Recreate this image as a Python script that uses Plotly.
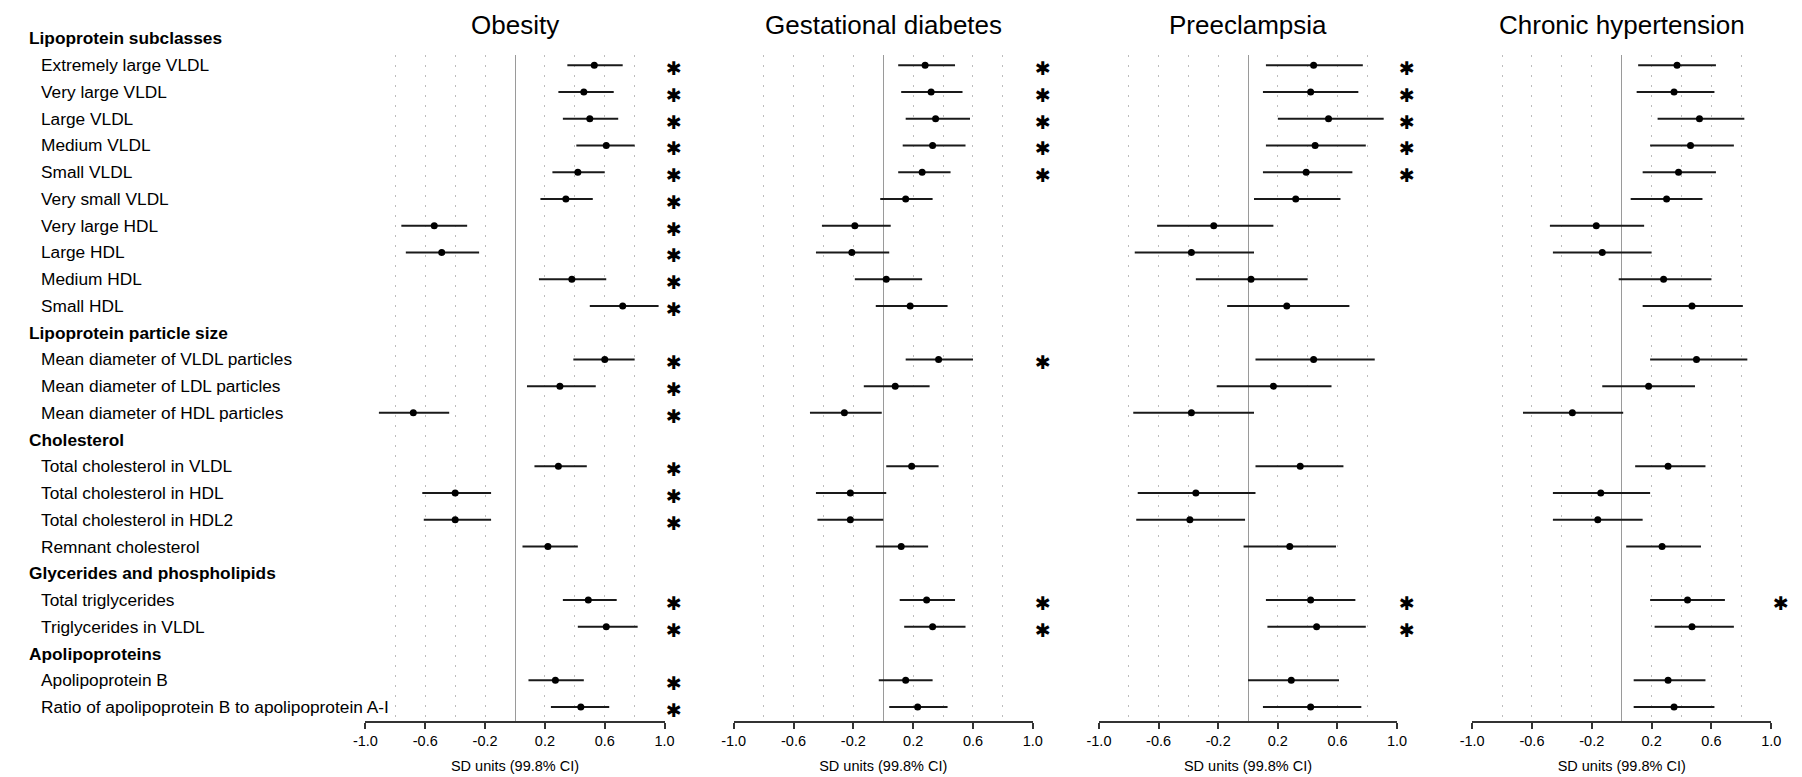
import plotly.graph_objects as go

# ---------------- data ----------------
row_labels = [
    "Lipoprotein subclasses",
    "Extremely large VLDL", "Very large VLDL", "Large VLDL", "Medium VLDL",
    "Small VLDL", "Very small VLDL", "Very large HDL", "Large HDL",
    "Medium HDL", "Small HDL",
    "Lipoprotein particle size",
    "Mean diameter of VLDL particles", "Mean diameter of LDL particles",
    "Mean diameter of HDL particles",
    "Cholesterol",
    "Total cholesterol in VLDL", "Total cholesterol in HDL",
    "Total cholesterol in HDL2", "Remnant cholesterol",
    "Glycerides and phospholipids",
    "Total triglycerides", "Triglycerides in VLDL",
    "Apolipoproteins",
    "Apolipoprotein B", "Ratio of apolipoprotein B to apolipoprotein A-I",
]
header_rows = ["Lipoprotein subclasses", "Lipoprotein particle size", "Cholesterol",
               "Glycerides and phospholipids", "Apolipoproteins"]

panel_titles = ["Obesity", "Gestational diabetes", "Preeclampsia", "Chronic hypertension"]

obesity_est = [0.53, 0.46, 0.50, 0.61, 0.42, 0.34, -0.54, -0.49, 0.38, 0.72, 0.60, 0.30, -0.68, 0.29, -0.40, -0.40, 0.22, 0.49, 0.61, 0.27, 0.44]
obesity_lo = [0.35, 0.29, 0.32, 0.41, 0.25, 0.17, -0.76, -0.73, 0.16, 0.50, 0.39, 0.08, -0.91, 0.13, -0.62, -0.61, 0.05, 0.32, 0.42, 0.09, 0.24]
obesity_hi = [0.72, 0.66, 0.69, 0.80, 0.60, 0.52, -0.32, -0.24, 0.61, 0.96, 0.80, 0.54, -0.44, 0.48, -0.16, -0.16, 0.42, 0.68, 0.82, 0.46, 0.63]
obesity_sig = [1, 1, 1, 1, 1, 1, 1, 1, 1, 1, 1, 1, 1, 1, 1, 1, 0, 1, 1, 1, 1]

gd_est = [0.28, 0.32, 0.35, 0.33, 0.26, 0.15, -0.19, -0.21, 0.02, 0.18, 0.37, 0.08, -0.26, 0.19, -0.22, -0.22, 0.12, 0.29, 0.33, 0.15, 0.23]
gd_lo = [0.10, 0.12, 0.15, 0.13, 0.10, -0.02, -0.41, -0.45, -0.19, -0.05, 0.15, -0.13, -0.49, 0.02, -0.45, -0.44, -0.05, 0.11, 0.14, -0.03, 0.04]
gd_hi = [0.48, 0.53, 0.58, 0.55, 0.45, 0.33, 0.05, 0.04, 0.26, 0.43, 0.60, 0.31, -0.01, 0.37, 0.02, 0.00, 0.30, 0.48, 0.55, 0.33, 0.43]
gd_sig = [1, 1, 1, 1, 1, 0, 0, 0, 0, 0, 1, 0, 0, 0, 0, 0, 0, 1, 1, 0, 0]

pe_est = [0.44, 0.42, 0.54, 0.45, 0.39, 0.32, -0.23, -0.38, 0.02, 0.26, 0.44, 0.17, -0.38, 0.35, -0.35, -0.39, 0.28, 0.42, 0.46, 0.29, 0.42]
pe_lo = [0.12, 0.10, 0.20, 0.12, 0.10, 0.04, -0.61, -0.76, -0.35, -0.14, 0.05, -0.21, -0.77, 0.05, -0.74, -0.75, -0.03, 0.12, 0.13, 0.00, 0.10]
pe_hi = [0.77, 0.74, 0.91, 0.79, 0.70, 0.62, 0.17, 0.04, 0.40, 0.68, 0.85, 0.56, 0.04, 0.64, 0.05, -0.02, 0.59, 0.72, 0.79, 0.61, 0.76]
pe_sig = [1, 1, 1, 1, 1, 0, 0, 0, 0, 0, 0, 0, 0, 0, 0, 0, 0, 1, 1, 0, 0]

ch_est = [0.37, 0.35, 0.52, 0.46, 0.38, 0.30, -0.17, -0.13, 0.28, 0.47, 0.50, 0.18, -0.33, 0.31, -0.14, -0.16, 0.27, 0.44, 0.47, 0.31, 0.35]
ch_lo = [0.11, 0.10, 0.24, 0.19, 0.14, 0.06, -0.48, -0.46, -0.02, 0.14, 0.19, -0.13, -0.66, 0.09, -0.46, -0.46, 0.03, 0.19, 0.22, 0.08, 0.08]
ch_hi = [0.63, 0.62, 0.82, 0.75, 0.63, 0.54, 0.15, 0.20, 0.60, 0.81, 0.84, 0.49, 0.01, 0.56, 0.19, 0.14, 0.53, 0.69, 0.75, 0.56, 0.62]
ch_sig = [0, 0, 0, 0, 0, 0, 0, 0, 0, 0, 0, 0, 0, 0, 0, 0, 0, 1, 0, 0, 0]

tick_vals = [-1.0, -0.6, -0.2, 0.2, 0.6, 1.0]
tick_text = ["-1.0", "-0.6", "-0.2", "0.2", "0.6", "1.0"]
minor_vals = [-0.8, -0.4, 0.4, 0.8]
axis_title = "SD units (99.8% CI)"
star_text = "\u2731"

# ---------------- layout constants ----------------
W, H = 1802, 777
FONT = "Liberation Sans, Arial, Helvetica, sans-serif"
STAR_FONT = "DejaVu Sans, Liberation Sans, sans-serif"
panel_px = [(357, 660), (730, 1033), (1100, 1402), (1478, 1781)]
plot_top_px, plot_bot_px = 55, 721
y_lo, y_hi = 25.52, 0.62          # main y range (reversed)
lab_hi = -0.6                     # label axis reaches up to the first header row
px_per_row = (plot_bot_px - plot_top_px) / (y_lo - y_hi)
lab_top_px = plot_bot_px - (y_lo - lab_hi) * px_per_row
star_dom = 1.033                  # asterisk column, in panel-domain fraction

panels = [
    (obesity_est, obesity_lo, obesity_hi, obesity_sig),
    (gd_est, gd_lo, gd_hi, gd_sig),
    (pe_est, pe_lo, pe_hi, pe_sig),
    (ch_est, ch_lo, ch_hi, ch_sig),
]

measure_rows = [i for i, lab in enumerate(row_labels) if lab not in header_rows]

fig = go.Figure()
annotations = []

for k, (est, lo, hi, sig) in enumerate(panels):
    xname = "x" if k == 0 else f"x{k+1}"
    fig.add_trace(go.Scatter(
        x=est, y=measure_rows,
        xaxis=xname, yaxis="y",
        mode="markers",
        marker=dict(color="#000000", size=7),
        error_x=dict(type="data", symmetric=False,
                     array=[h - e for h, e in zip(hi, est)],
                     arrayminus=[e - l for e, l in zip(est, lo)],
                     width=0, thickness=2, color="#1a1a1a"),
        showlegend=False, hoverinfo="skip",
    ))
    x0, x1 = panel_px[k]
    for r, s in zip(measure_rows, sig):
        if s:
            annotations.append(dict(
                x=(x0 + star_dom * (x1 - x0)) / W, y=r, xref="paper", yref="y",
                text=star_text,
                showarrow=False, font=dict(size=19, color="#000", family=STAR_FONT),
                xanchor="center", yanchor="middle", yshift=-3,
            ))
    annotations.append(dict(
        x=(x0 + x1) / 2 / W, y=1 - 25 / H, xref="paper", yref="paper",
        text=panel_titles[k], showarrow=False,
        font=dict(size=26, color="#000", family=FONT),
        xanchor="center", yanchor="middle",
    ))

# invisible helper subplot whose y axis spans all rows (incl. the top header)
fig.add_trace(go.Scatter(x=[0], y=[0], xaxis="x5", yaxis="y2", mode="markers",
                         marker=dict(opacity=0), showlegend=False, hoverinfo="skip"))

for i, lab in enumerate(row_labels):
    hdr = lab in header_rows
    annotations.append(dict(
        x=(14.5 if hdr else 26.5) / W, y=i, xref="paper", yref="y2",
        text=f"<b>{lab}</b>" if hdr else lab, showarrow=False,
        font=dict(size=17.3, color="#000", family=FONT),
        xanchor="left", yanchor="middle",
    ))

hidden = dict(showgrid=False, zeroline=False, showticklabels=False,
              showline=False, ticks="", fixedrange=True)
layout = dict(
    width=W, height=H,
    margin=dict(l=0, r=0, t=0, b=0),
    paper_bgcolor="white", plot_bgcolor="white",
    font=dict(family=FONT, color="#000"),
    yaxis=dict(domain=[1 - plot_bot_px / H, 1 - plot_top_px / H],
               range=[y_lo, y_hi], **hidden),
    yaxis2=dict(domain=[1 - plot_bot_px / H, 1 - lab_top_px / H],
                range=[y_lo, lab_hi], anchor="x5", **hidden),
    xaxis5=dict(domain=[0, 0.01], range=[-1, 1], anchor="y2", **hidden),
    annotations=annotations,
)
for k in range(4):
    key = "xaxis" if k == 0 else f"xaxis{k+1}"
    x0, x1 = panel_px[k]
    layout[key] = dict(
        domain=[x0 / W, x1 / W], anchor="y", range=[-1.0, 1.0],
        tickmode="array", tickvals=tick_vals, ticktext=tick_text,
        ticks="outside", ticklen=6, tickwidth=2, tickcolor="#333",
        showline=True, linecolor="#333", linewidth=2,
        showgrid=True, gridcolor="#bdbdbd", gridwidth=1, griddash="2px,8px",
        minor=dict(tickvals=minor_vals, showgrid=True, gridcolor="#bdbdbd",
                   gridwidth=1, griddash="2px,8px", ticks=""),
        zeroline=True, zerolinecolor="#9a9a9a", zerolinewidth=1,
        tickfont=dict(size=14.5, color="#000", family=FONT),
        title=dict(text=axis_title, font=dict(size=14.5, color="#000", family=FONT),
                   standoff=12),
        fixedrange=True,
    )

fig.update_layout(**layout)
fig.write_html("out.html")
